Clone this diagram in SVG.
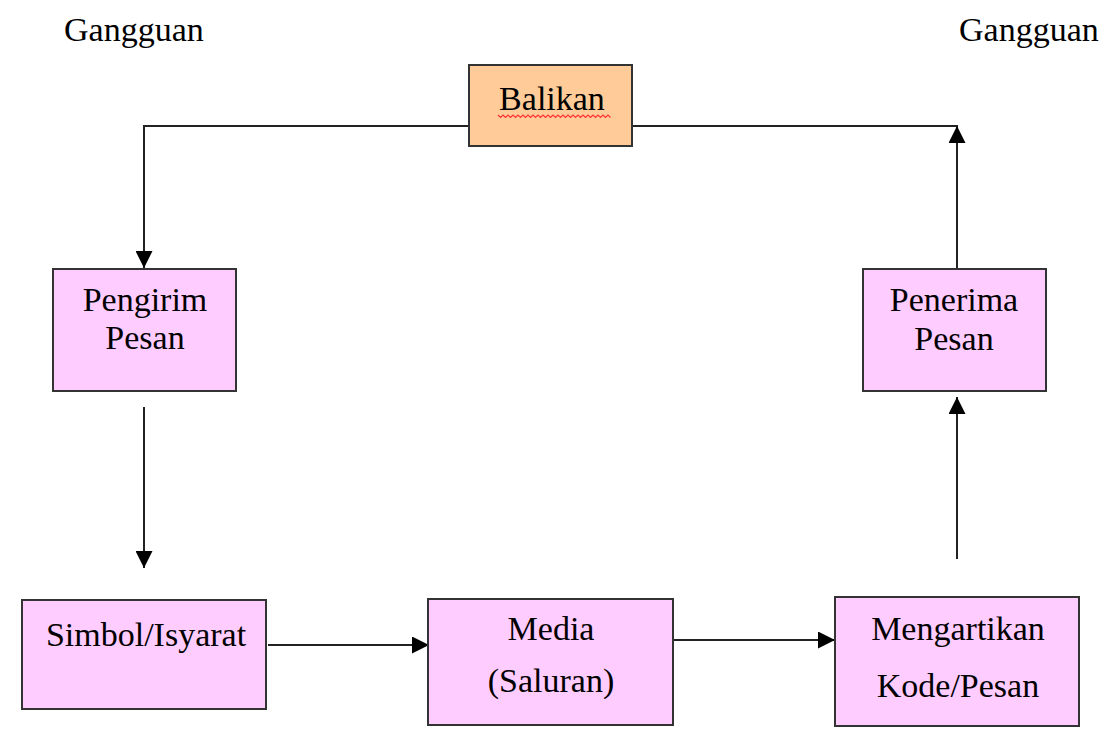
<svg xmlns="http://www.w3.org/2000/svg" width="1116" height="740" viewBox="0 0 1116 740">
  <style>
    .box { fill: #FFCCFF; stroke: #333333; stroke-width: 2; }
    .orange { fill: #FFCC99; }
    .lbl { font-family: 'Liberation Serif', Tinos, 'Times New Roman', Times, 'Noto Serif', 'DejaVu Serif', serif; font-size: 34px; fill: #000000; text-anchor: middle; }
    .free { font-family: 'Liberation Serif', Tinos, 'Times New Roman', Times, 'Noto Serif', 'DejaVu Serif', serif; font-size: 34px; fill: #000000; }
    .conn { fill: none; stroke: #222222; stroke-width: 2; }
  </style>
  <defs>
    <marker id="arrow" markerUnits="userSpaceOnUse" markerWidth="17" markerHeight="17" refX="17" refY="8.5" orient="auto">
      <path d="M0,0 L17,8.5 L0,17 Z" fill="#000000"/>
    </marker>
  </defs>
  <rect width="1116" height="740" fill="#ffffff"/>

  <text class="free" x="64" y="41" font-family="Liberation Serif, serif">Gangguan</text>
  <text class="free" x="959" y="41" font-family="Liberation Serif, serif">Gangguan</text>

  <g id="connectors">
    <path class="conn" d="M469 126 H144 V268" marker-end="url(#arrow)"/>
    <path class="conn" d="M144 407 V568" marker-end="url(#arrow)"/>
    <path class="conn" d="M268 645 H429" marker-end="url(#arrow)"/>
    <path class="conn" d="M673 640 H835" marker-end="url(#arrow)"/>
    <path class="conn" d="M957 559 V397" marker-end="url(#arrow)"/>
    <path class="conn" d="M632 126 H958"/>
    <path class="conn" d="M957 269 V126" marker-end="url(#arrow)"/>
  </g>

  <g id="balikan">
    <rect class="box orange" x="469" y="65" width="163" height="81"/>
    <text class="lbl" x="552" y="110">Balikan</text>
    <path d="M498 115 l2.5 2.5 l2.5 -2.5 l2.5 2.5 l2.5 -2.5 l2.5 2.5 l2.5 -2.5 l2.5 2.5 l2.5 -2.5 l2.5 2.5 l2.5 -2.5 l2.5 2.5 l2.5 -2.5 l2.5 2.5 l2.5 -2.5 l2.5 2.5 l2.5 -2.5 l2.5 2.5 l2.5 -2.5 l2.5 2.5 l2.5 -2.5 l2.5 2.5 l2.5 -2.5 l2.5 2.5 l2.5 -2.5 l2.5 2.5 l2.5 -2.5 l2.5 2.5 l2.5 -2.5 l2.5 2.5 l2.5 -2.5 l2.5 2.5 l2.5 -2.5 l2.5 2.5 l2.5 -2.5 l2.5 2.5 l2.5 -2.5 l2.5 2.5 l2.5 -2.5 l2.5 2.5 l2.5 -2.5 l2.5 2.5 l2.5 -2.5 l2.5 2.5 l2.5 -2.5 l2.5 2.5" fill="none" stroke="#FF3333" stroke-width="1.2"/>
  </g>

  <g id="pengirim">
    <rect class="box" x="53" y="269" width="183" height="122"/>
    <text class="lbl" x="145" y="311">Pengirim</text>
    <text class="lbl" x="145" y="349">Pesan</text>
  </g>

  <g id="simbol">
    <rect class="box" x="22" y="600" width="244" height="109"/>
    <text class="lbl" x="146" y="646">Simbol/Isyarat</text>
  </g>

  <g id="media">
    <rect class="box" x="428" y="599" width="245" height="126"/>
    <text class="lbl" x="551" y="640">Media</text>
    <text class="lbl" x="551" y="692">(Saluran)</text>
  </g>

  <g id="mengartikan">
    <rect class="box" x="835" y="597" width="244" height="129"/>
    <text class="lbl" x="958" y="640">Mengartikan</text>
    <text class="lbl" x="958" y="697">Kode/Pesan</text>
  </g>

  <g id="penerima">
    <rect class="box" x="863" y="269" width="183" height="122"/>
    <text class="lbl" x="954" y="311">Penerima</text>
    <text class="lbl" x="954" y="350">Pesan</text>
  </g>
</svg>
